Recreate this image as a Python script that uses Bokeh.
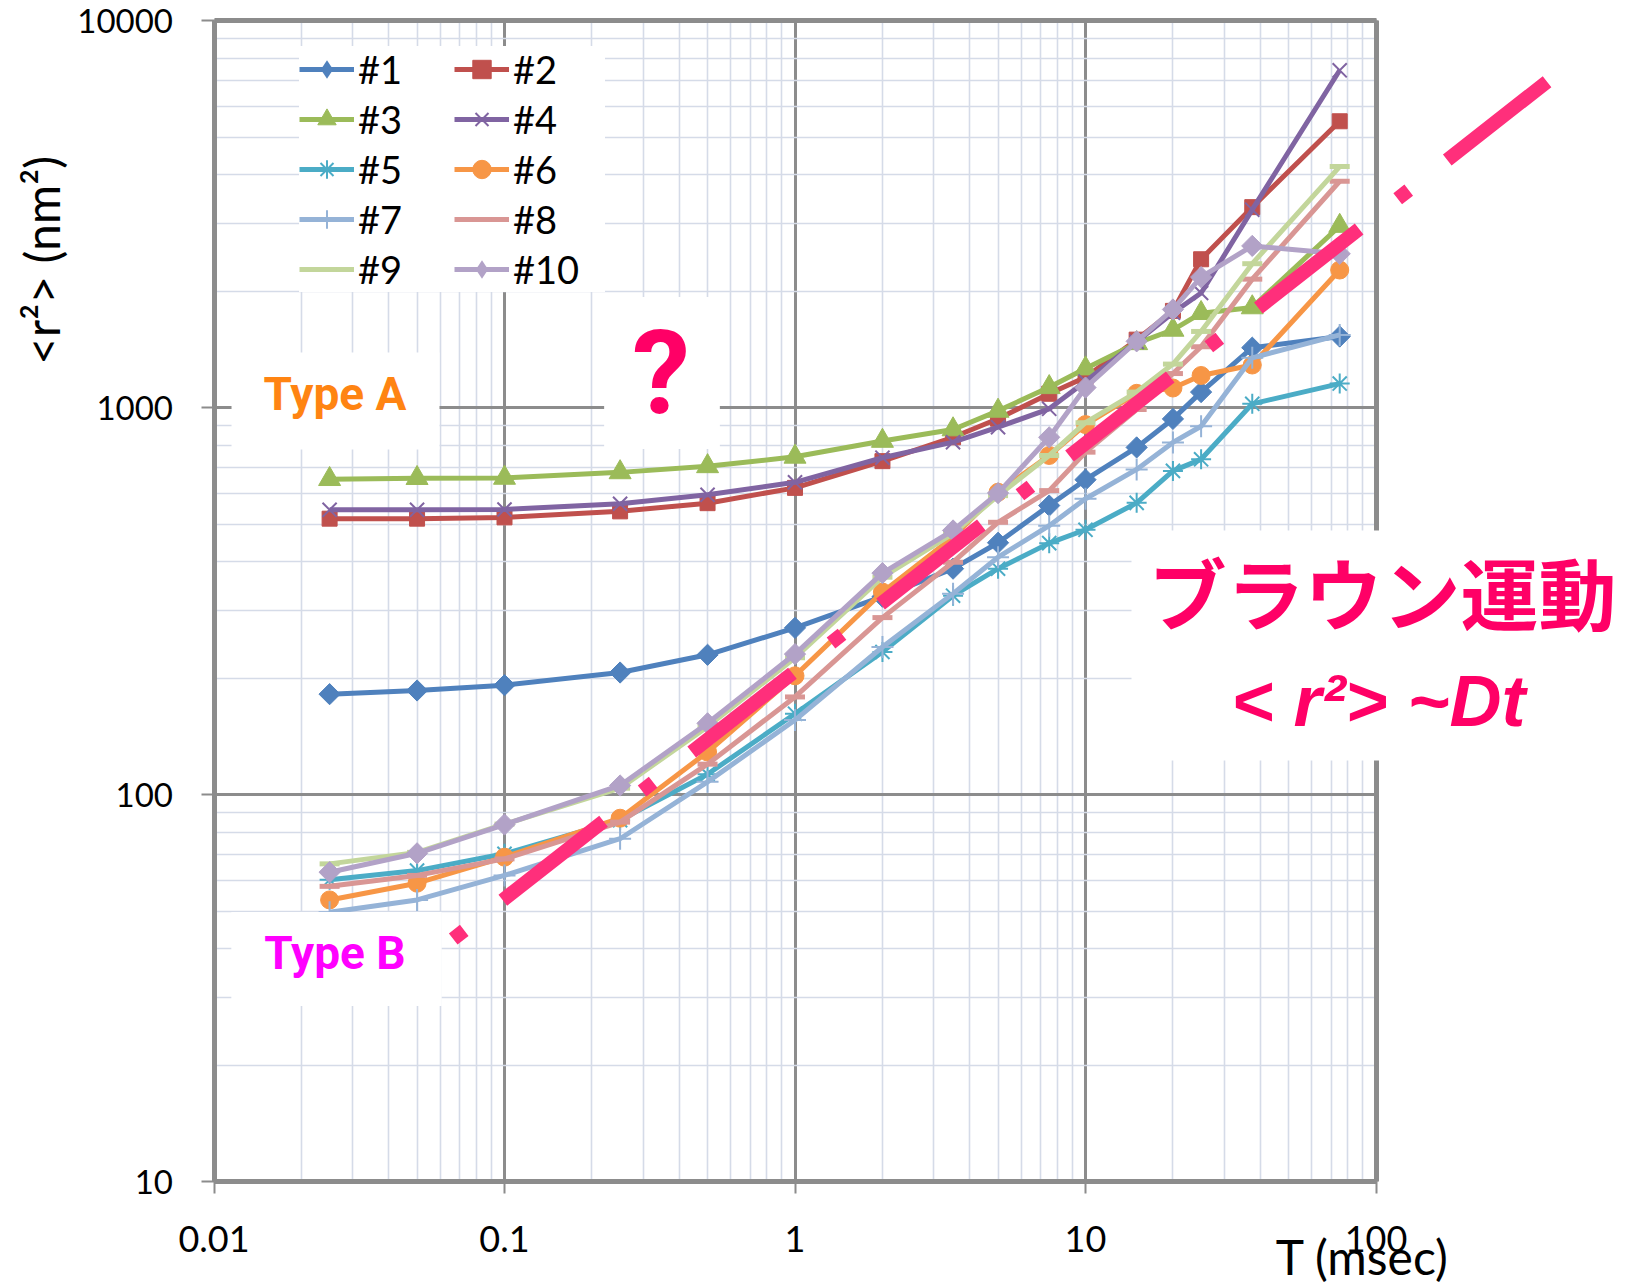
import math
from bokeh.plotting import figure
from bokeh.models import (LogAxis, FixedTicker, Label, Legend, LegendItem, Range1d)
from bokeh.embed import file_html
from bokeh.resources import INLINE

# ---------------- data ----------------
T = [0.025, 0.05, 0.1, 0.25, 0.5, 1, 2, 3.5, 5, 7.5, 10, 15, 20, 25, 37.5, 75]

s1 = [182, 186, 192, 207, 230, 270, 325, 384, 448, 559, 652, 790, 936, 1098, 1430, 1528]
s2 = [517, 517, 521, 540, 567, 621, 728, 839, 937, 1087, 1200, 1500, 1780, 2420, 3300, 5500]
s3 = [654, 658, 659, 681, 706, 747, 821, 879, 982, 1130, 1263, 1468, 1590, 1756, 1817, 2950]
s4 = [545, 545, 546, 565, 596, 642, 743, 815, 891, 994, 1170, 1480, 1760, 1980, 3250, 7450]
s5 = [60.3, 63.7, 70.4, 86, 113, 162, 234, 327, 384, 447, 484, 568, 687, 736, 1024, 1155]
s6 = [53.5, 59.1, 69, 87, 129, 203, 334, 463, 605, 753, 905, 1090, 1125, 1212, 1290, 2270]
s7 = [49.7, 53.5, 61.9, 77, 108, 156, 241, 331, 411, 496, 582, 693, 814, 896, 1346, 1543]
s8 = [58, 61.9, 68.3, 85, 120, 179, 287, 399, 506, 611, 768, 990, 1226, 1438, 2150, 3850]
s9 = [66.3, 71, 84, 104, 150, 226, 365, 473, 593, 753, 915, 1098, 1297, 1575, 2357, 4200]
s10 = [63.1, 70.6, 83.8, 105.7, 153, 231, 374, 482, 602, 839, 1128, 1485, 1795, 2176, 2620, 2500]

series_names = ["#1", "#2", "#3", "#4", "#5", "#6", "#7", "#8", "#9", "#10"]

# Brownian-motion guide  <r^2> ~ Dt (end points)
brown_T = [0.0666, 388.0]
brown_r2 = [42.4, 6960.0]

x_ticks = [0.01, 0.1, 1, 10, 100]
x_tick_labels = ["0.01", "0.1", "1", "10", "100"]
y_ticks = [10, 100, 1000, 10000]
y_tick_labels = ["10", "100", "1000", "10000"]

# ---------------- styling ----------------
colors = ["#4F81BD", "#C0504D", "#9BBB59", "#8064A2", "#4BACC6",
          "#F79646", "#95B3D7", "#D99694", "#C3D69B", "#B2A2C7"]
markers = [dict(marker="square", angle=math.pi / 4, size=15),
           dict(marker="square", size=15),
           dict(marker="triangle", size=22),
           dict(marker="x", size=20, line_width=2),
           dict(marker="asterisk", size=20, line_width=2),
           dict(marker="circle", size=18),
           dict(marker="cross", size=22, line_width=2),
           dict(marker="dash", size=20, line_width=5),
           dict(marker="dash", size=20, line_width=5),
           dict(marker="square", angle=math.pi / 4, size=15)]

W, H = 1633, 1284
# plot-area edges in page pixels
PL, PR, PT, PB = 213.5, 1375.5, 20.3, 1181.3
XDEC = (PR - PL) / 4.0
YDEC = (PB - PT) / 3.0
GREY = "#8C8C8C"
PINK = "#FF0066"

p = figure(width=W, height=H, x_axis_type="log", y_axis_type="log",
           x_range=Range1d(10 ** (-2 - PL / XDEC), 10 ** (2 + (W - PR) / XDEC)),
           y_range=Range1d(10 ** (1 - (H - PB) / YDEC), 10 ** (4 + PT / YDEC)),
           output_backend="svg", toolbar_location=None, min_border=0)
p.outline_line_color = None
p.background_fill_color = "white"
p.border_fill_color = "white"

x_minor = [m * 10.0 ** e for e in range(-2, 2) for m in range(2, 10)]
y_minor = [m * 10.0 ** e for e in range(1, 4) for m in range(2, 10)]

xa = p.xaxis[0]
xa.ticker = FixedTicker(ticks=x_ticks, minor_ticks=x_minor)
xa.major_label_overrides = {t: s for t, s in zip(x_ticks, x_tick_labels)}
xa.fixed_location = y_ticks[0]
xa.bounds = (x_ticks[0], x_ticks[-1])
ya = p.yaxis[0]
ya.ticker = FixedTicker(ticks=y_ticks, minor_ticks=y_minor)
ya.major_label_overrides = {t: s for t, s in zip(y_ticks, y_tick_labels)}
ya.fixed_location = x_ticks[0]
ya.bounds = (y_ticks[0], y_ticks[-1])

for ax in (xa, ya):
    ax.axis_line_color = GREY
    ax.axis_line_width = 5
    ax.major_tick_line_color = GREY
    ax.major_tick_line_width = 2
    ax.major_tick_in = 0
    ax.minor_tick_line_color = None
    ax.major_label_text_font = "Lato"
    ax.major_label_text_color = "black"
xa.major_label_text_font_size = "36px"
xa.major_tick_out = 12
xa.major_label_standoff = 32
ya.major_label_text_font_size = "33px"
ya.major_tick_out = 13
ya.major_label_standoff = 28

p.add_layout(LogAxis(ticker=FixedTicker(ticks=[]), fixed_location=x_ticks[-1],
                     bounds=(y_ticks[0], y_ticks[-1]), axis_line_color=GREY,
                     axis_line_width=5, major_tick_line_color=None,
                     minor_tick_line_color=None), "right")
p.add_layout(LogAxis(ticker=FixedTicker(ticks=[]), fixed_location=y_ticks[-1],
                     bounds=(x_ticks[0], x_ticks[-1]), axis_line_color=GREY,
                     axis_line_width=5, major_tick_line_color=None,
                     minor_tick_line_color=None), "above")

p.xgrid.bounds = (x_ticks[0], x_ticks[-1])
p.xgrid.cross_bounds = (y_ticks[0], y_ticks[-1])
p.ygrid.bounds = (y_ticks[0], y_ticks[-1])
p.ygrid.cross_bounds = (x_ticks[0], x_ticks[-1])
p.grid.grid_line_color = GREY
p.grid.grid_line_width = 3
p.grid.minor_grid_line_color = "#D5DBE8"
p.grid.minor_grid_line_width = 1.6

# ---------------- series ----------------
all_series = [s1, s2, s3, s4, s5, s6, s7, s8, s9, s10]
items = []
for name, ys, col, mk in zip(series_names, all_series, colors, markers):
    lr = p.line(T, ys, line_color=col, line_width=5)
    mk = dict(mk)
    lw = mk.pop("line_width", 1)
    sr = p.scatter(T, ys, fill_color=col, line_color=col, line_width=lw, **mk)
    if mk.get("angle"):
        # legend swatch for the diamond markers (zero size in the plot itself;
        # the legend draws markers at its own size and ignores the angle)
        sr = p.scatter(T, ys, marker="diamond", size=0, fill_color=col,
                       line_color=None)
    items.append(LegendItem(label=name, renderers=[lr, sr]))

# Brownian guide line (dash-dot, thick pink)
p.line(brown_T, brown_r2, line_color="#FF2F7B", line_width=14,
       line_dash="14 49 128 49", line_cap="butt")

order = [0, 2, 4, 6, 8, 1, 3, 5, 7, 9]
legend = Legend(items=[items[i] for i in order], ncols=2, location=(299, H - 292),
                label_text_font="Lato", label_text_font_size="38px",
                label_text_color="black", glyph_width=55, glyph_height=46,
                label_height=46, label_width=92, label_standoff=4, spacing=4,
                padding=8, margin=0, border_line_color=None,
                background_fill_color="white", background_fill_alpha=1.0)
p.add_layout(legend)


def lab(text, x, y, size, color, font, style="normal", align="center",
        baseline="middle", angle=0.0):
    p.add_layout(Label(x=x, y=H - y, x_units="screen", y_units="screen", text=text,
                       text_font=font, text_font_size=f"{size}px", text_color=color,
                       text_font_style=style, text_align=align,
                       text_baseline=baseline, angle=angle))


def boxed(text, box, center, est, size, color, font, style="bold"):
    # box = (left, top, right, bottom) page px; center = wanted text-box centre
    L, Tp, R, B = box
    cx, cy = center
    w, h = est
    pad = dict(left=int(round(cx - w / 2 - L)), right=int(round(R - cx - w / 2)),
               top=int(round(cy - h / 2 - Tp)), bottom=int(round(B - cy - h / 2)))
    pad = {k: max(0, v) for k, v in pad.items()}
    p.add_layout(Label(x=(L + R) / 2, y=H - (Tp + B) / 2, x_units="screen",
                       y_units="screen", text=text, text_font=font,
                       text_font_size=f"{size}px", text_color=color,
                       text_font_style=style, text_align="center",
                       text_baseline="middle", background_fill_color="white",
                       background_fill_alpha=1.0, padding=pad))


boxed("Type A", (231, 352, 439, 449), (334.5, 393), (143, 54), 46, "#FF8412", "Roboto")
boxed("?", (604, 297, 719, 448), (660, 372.5), (57, 136), 116, PINK, "Roboto")
boxed("Type B", (230, 912, 442, 1005), (334.5, 952.5), (143, 54), 46, "#FF00FF", "Roboto")
boxed("ブラウン運動", (1131, 530, W, 760), (1382, 590), (468, 113), 78, PINK,
      "Noto Sans CJK JP")
lab("< r²> ~Dt", 1378, 700, 72, PINK, "Liberation Sans", "bold italic")
lab("<r²> (nm²)", 41, 260, 48, "black", "Lato", angle=math.pi / 2)
lab("T (msec)", 1362, 1256, 48, "black", "Lato")

open("out.html", "w").write(file_html(p, INLINE))
